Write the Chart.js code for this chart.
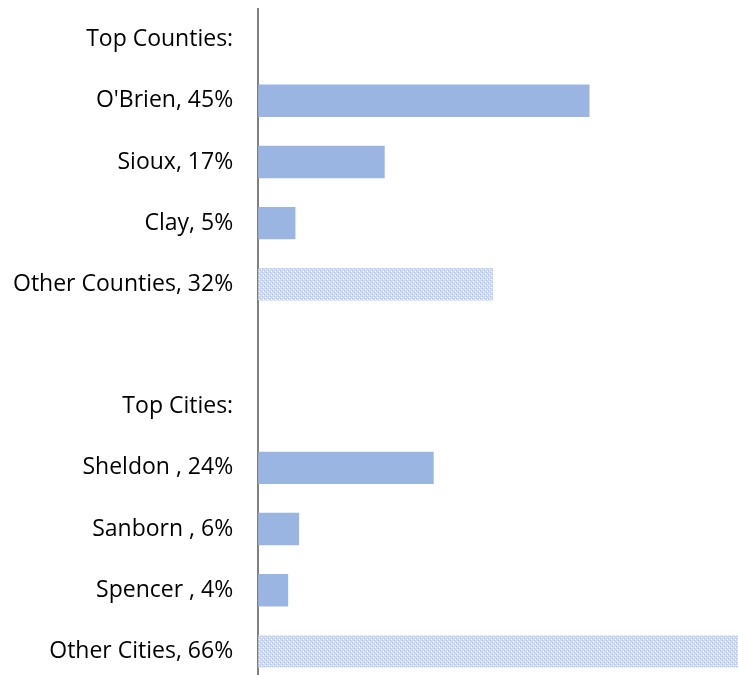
<!DOCTYPE html>
<html lang="en">
<head>
    <meta charset="UTF-8">
    <title>Top Counties and Cities</title>
    <style>
        * { margin: 0; padding: 0; box-sizing: border-box; }
        html, body { width: 738px; height: 675px; overflow: hidden; background: #fff; }
        .chart-container { position: relative; width: 738px; height: 682px; }
    </style>
</head>
<body>
    <div class="chart-container">
        <canvas id="shareChart"></canvas>
    </div>

    <script src="https://cdn.jsdelivr.net/npm/chart.js"></script>
    <script>
        // chart data
        const categories = [
            'Top Counties:', "O'Brien, 45%", 'Sioux, 17%', 'Clay, 5%', 'Other Counties, 32%',
            '', 'Top Cities:', 'Sheldon , 24%', 'Sanborn , 6%', 'Spencer , 4%', 'Other Cities, 66%'
        ];
        const shares = [null, 45.3, 17.3, 5.1, 32.1, null, null, 24.0, 5.6, 4.1, 65.6];
        const isOther = [false, false, false, false, true, false, false, false, false, false, true];

        // dotted fill used for the "Other" bars
        function makePattern() {
            const c = document.createElement('canvas');
            c.width = 4; c.height = 4;
            const p = c.getContext('2d');
            p.fillStyle = '#ccdaf5';
            p.fillRect(0, 0, 4, 4);
            p.fillStyle = '#ffffff';
            p.fillRect(1, 1, 1, 1);
            p.fillRect(3, 3, 1, 1);
            p.fillStyle = '#afc5ec';
            p.fillRect(0, 2, 1, 1);
            p.fillRect(2, 0, 1, 1);
            return p.createPattern(c, 'repeat');
        }

        const solid = '#9bb5e3';
        const dotted = makePattern();

        const ctx = document.getElementById('shareChart').getContext('2d');
        new Chart(ctx, {
            type: 'bar',
            data: {
                labels: categories,
                datasets: [{
                    data: shares,
                    backgroundColor: isOther.map(o => o ? dotted : solid),
                    borderWidth: 0,
                    barPercentage: 0.53,
                    categoryPercentage: 1.0
                }]
            },
            options: {
                indexAxis: 'y',
                responsive: true,
                maintainAspectRatio: false,
                animation: false,
                layout: { padding: { top: 9, right: 0, bottom: 0, left: 0 } },
                plugins: {
                    legend: { display: false },
                    tooltip: { enabled: false }
                },
                scales: {
                    x: {
                        display: false,
                        min: 0,
                        max: 65.6
                    },
                    y: {
                        grid: { display: false, drawTicks: false },
                        border: { color: '#808080', width: 2 },
                        ticks: {
                            color: '#000000',
                            padding: 25,
                            font: { family: 'Open Sans', size: 23 },
                            autoSkip: false
                        },
                        afterFit: (scale) => {
                            // no extra vertical room for the tick labels, tighter left edge
                            scale.paddingTop = 0;
                            scale.paddingBottom = 0;
                            scale.width -= 12;
                        }
                    }
                }
            }
        });
    </script>
</body>
</html>
